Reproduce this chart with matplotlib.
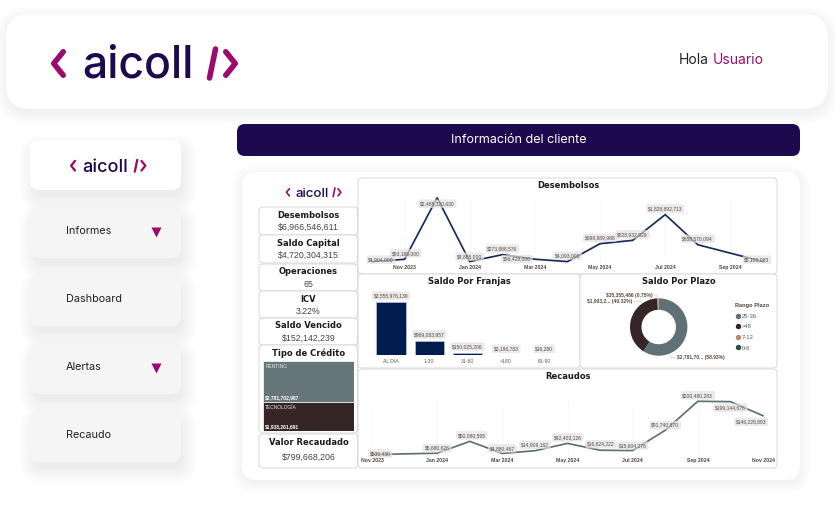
import matplotlib
matplotlib.use("Agg")
import matplotlib.pyplot as plt
from matplotlib.patches import FancyBboxPatch
from matplotlib.lines import Line2D

W, H = 835, 528
PURPLE = "#9b0a6c"
NAVY = "#1d0a4e"

# ---------- data ----------
kpi_titles = ["Desembolsos", "Saldo Capital", "Operaciones", "ICV", "Saldo Vencido"]
kpi_values = ["$6,966,546,611", "$4,720,304,315", "65", "3.22%", "$152,142,239"]
menu_items = ["Informes", "Dashboard", "Alertas", "Recaudo"]

des_months = [0, 1, 2, 3, 4, 5, 6, 7, 8, 9, 10, 12]
des_values = [4904000, 93188000, 2485320630, 4885000, 273888576, 96428000,
              4093000, 698889988, 828932929, 1828892713, 658570094, 5100000]
des_labels = ["$4,904,000", "$93,188,000", "$2,485,320,630", "$4,885,000", "$273,888,576",
              "$96,428,000", "$4,093,000", "$698,889,988", "$828,932,929",
              "$1,828,892,713", "$658,570,094", "$5,100,083"]
des_tick_pos = [1, 3, 5, 7, 9, 11]
des_ticks = ["Nov 2023", "Jan 2024", "Mar 2024", "May 2024", "Jul 2024", "Sep 2024"]

rec_months = [0, 2, 3, 4, 5, 6, 7, 8, 9, 10, 11, 12]
rec_values = [539430, 5680626, 50080595, 4880467, 14909162, 42403126,
              16824222, 15604276, 91740870, 200480283, 199144676, 146228893]
rec_labels = ["$539,430", "$5,680,626", "$50,080,595", "$4,880,467", "$14,909,162",
              "$42,403,126", "$16,824,222", "$15,604,276", "$91,740,870",
              "$200,480,283", "$199,144,676", "$146,228,893"]
rec_tick_pos = [0, 2, 4, 6, 8, 10, 12]
rec_ticks = ["Nov 2023", "Jan 2024", "Mar 2024", "May 2024", "Jul 2024", "Sep 2024", "Nov 2024"]

franja_names = ["AL DIA", "1-30", "31-60", ">180", "61-90"]
franja_values = [3555976139, 969083957, 150025206, 3196783, 16280]
franja_labels = ["$3,555,976,139", "$969,083,957", "$150,025,206", "$3,196,783", "$16,280"]

plazo_names = ["25-36", ">48", "7-12", "0-6"]
plazo_values = [2781700000, 1903200000, 35355486, 48829]
plazo_colors = ["#5f7175", "#352526", "#b98a6b", "#2f4a4f"]

tipo_names = ["RENTING", "TECNOLOGÍA"]
tipo_values = [2781702987, 1938261691]
tipo_labels = ["$2,781,702,987", "$1,938,261,691"]
tipo_colors = ["#66767a", "#352526"]

# label offsets in pixels (right, up)
des_off = [(9, 2), (1, 6), (0, -6), (0, 5), (0, 6), (-18, 0), (0, 6), (0, 6), (0, 6), (0, 6), (0, 6), (-6, 2)]
rec_off = [(8, 1), (0, 5), (2, 6), (0, 5), (0, 6), (0, 6), (1, 6), (0, 5), (0, 5), (0, 6), (0, -6), (-12, -6)]

# ---------- helpers ----------
fig = plt.figure(figsize=(W / 100, H / 100), dpi=100, facecolor="white")
bg = fig.add_axes([0, 0, 1, 1])
bg.set_xlim(0, W)
bg.set_ylim(H, 0)
bg.axis("off")


def rbox(x0, y0, x1, y1, r=8, fc="white", ec="none", lw=0.0, z=2, alpha=None):
    p = FancyBboxPatch((x0, y0), x1 - x0, y1 - y0, boxstyle=f"round,pad=0,rounding_size={r}",
                       fc=fc, ec=ec, lw=lw, zorder=z, alpha=alpha)
    bg.add_patch(p)


def card(x0, y0, x1, y1, r=10, fc="white", spread=14, dy=8, dx=3, z=2, a=0.0045):
    for i in range(spread, -4, -1):
        rbox(x0 - i + dx, y0 - i + dy, x1 + i + dx, y1 + i + dy, max(r + i, 1), fc="#000000", z=z, alpha=a)
    rbox(x0, y0, x1, y1, r, fc=fc, z=z + 0.1)


def pxaxes(x0, y0, x1, y1):
    ax = fig.add_axes([x0 / W, 1 - y1 / H, (x1 - x0) / W, (y1 - y0) / H])
    ax.patch.set_alpha(0)
    for s in ax.spines.values():
        s.set_visible(False)
    return ax


def logo(x0, xc, y, scale, z=5):
    # y is the vertical centre of the brackets; the word sits on a baseline below it
    h = 11.75 * scale
    w = 9.5 * scale
    lw = 4.0 * scale
    kw = dict(color=PURPLE, lw=lw, solid_capstyle="round", solid_joinstyle="round", zorder=z)
    bg.plot([x0 + w, x0, x0 + w], [y - h, y, y + h], **kw)
    bg.text(xc, y + 14.5 * scale, "aicoll", family="Inter", fontweight="medium", fontsize=32 * scale,
            color=NAVY, ha="center", va="baseline", zorder=z)
    sx = xc + 71.5 * scale
    bg.plot([sx, sx + 6 * scale], [y + 14.5 * scale, y - 14.5 * scale], **kw)
    rx = sx + 16.25 * scale
    bg.plot([rx, rx + w, rx], [y - h, y, y + h], **kw)


def line_chart(box, months, values, labels, offs, tpos, ticks, color, ylim_top):
    ax = pxaxes(*box)
    ax.plot(months, values, color=color, lw=1.25, solid_joinstyle="miter", clip_on=False, zorder=3)
    ax.set_xlim(0, 12)
    ax.set_ylim(0, ylim_top)
    ax.set_yticks([])
    ax.set_xticks(tpos)
    ax.set_xticklabels(ticks, fontsize=3.7, color="#4f443f", family="Liberation Sans", fontweight="bold")
    ax.tick_params(axis="x", length=0, pad=2.5)
    ax.grid(axis="x", color="#f7f7f7", lw=0.4)
    ax.set_axisbelow(True)
    for m, v, t, (dx, dy) in zip(months, values, labels, offs):
        ax.annotate(t, (m, v), xytext=(dx * 0.72, dy * 0.72), textcoords="offset points",
                    ha="center", va="center", fontsize=3.6, color="#5b4a40",
                    family="Liberation Sans", annotation_clip=False, zorder=4,
                    bbox=dict(boxstyle="round,pad=0.35", fc="#e2e2e2", ec="none", alpha=0.7))
    return ax


TITLE = dict(family="DejaVu Sans", fontweight="bold", color="#1b1b1b", ha="center", va="center", zorder=6)
TSIZE = 6.0
VAL = dict(family="Liberation Sans", fontsize=6.3, color="#444444", ha="center", va="center", zorder=6)
BORDER = dict(r=4, ec="#d8d8d8", lw=0.7, z=3)

# ---------- page ----------
card(6, 14, 828, 109, r=24, spread=12, dy=4, dx=0)
logo(53.75, 138, 63.5, 1.0)
bg.text(679, 60, "Hola", family="Inter", fontsize=10.0, color="#222222", va="center", zorder=6)
bg.text(713, 60, "Usuario", family="Inter", fontsize=10.0, color=PURPLE, va="center", zorder=6)

card(30, 140, 181, 190)
logo(71.1, 105.5, 165.7, 0.41)

menu_tops = [208, 276, 344, 412]
for name, top in zip(menu_items, menu_tops):
    card(30, top, 181, top + 50, fc="#f5f5f5")
    bg.text(66, top + 23, name, family="Inter", fontsize=7.8, color="#222222", va="center", zorder=6)
    if name in ("Informes", "Alertas"):
        bg.plot([156], [top + 23.5], marker="v", ms=6.5, color=PURPLE, mec="none", zorder=6)

rbox(237, 124, 800, 156, r=8, fc=NAVY, z=3)
bg.text(519, 140, "Información del cliente", family="Inter", fontsize=9.0, color="white",
        ha="center", va="center", zorder=6)

card(242, 172, 800, 480, r=14, spread=11, dy=3, dx=0)
logo(286.5, 311.7, 192.3, 0.30)

# ---------- KPI cards ----------
kpi_boxes = [(207, 235), (235, 263), (264, 291), (291, 318), (318, 345)]
for title, val, (t, b) in zip(kpi_titles, kpi_values, kpi_boxes):
    rbox(259, t, 357.5, b, **BORDER)
    bg.text(308.5, t + 8, title, fontsize=TSIZE, **TITLE)
    bg.text(308.5, t + 20.5, val, **VAL)

rbox(259, 345, 357.5, 433, **BORDER)
bg.text(308.5, 353, "Tipo de Crédito", fontsize=TSIZE, **TITLE)
rbox(259, 434, 357.5, 468, **BORDER)
bg.text(308.5, 442.5, "Valor Recaudado", fontsize=TSIZE, **TITLE)
bg.text(308.5, 457.5, "$799,668,206", **VAL)

# treemap stacked from values
ax_t = pxaxes(263.3, 361, 353.7, 431)
bottom = 0
for name, v, lab, c in zip(tipo_names, tipo_values, tipo_labels, tipo_colors):
    ax_t.bar(0, v, bottom=bottom, width=1, color=c, edgecolor="white", linewidth=0.5)
    ax_t.annotate(name, (-0.5, bottom), xytext=(1.5, -4), textcoords="offset points", fontsize=3.5,
                  color="#e4e4e4", family="Liberation Sans", va="center", annotation_clip=False)
    ax_t.annotate(lab, (-0.5, bottom + v), xytext=(1.5, 3), textcoords="offset points", fontsize=3.6,
                  color="white", fontweight="bold", family="Liberation Sans", va="center",
                  annotation_clip=False)
    bottom += v
ax_t.set_xlim(-0.5, 0.5)
ax_t.set_ylim(sum(tipo_values), 0)
ax_t.set_xticks([])
ax_t.set_yticks([])

# ---------- chart panels ----------
rbox(358, 178, 777, 274, **BORDER)
rbox(358, 274, 580, 368, **BORDER)
rbox(580, 274, 777, 368, **BORDER)
rbox(358, 369, 777, 468, **BORDER)
bg.text(568, 185.5, "Desembolsos", fontsize=TSIZE, **TITLE)
bg.text(469, 282, "Saldo Por Franjas", fontsize=TSIZE, **TITLE)
bg.text(678.5, 282, "Saldo Por Plazo", fontsize=TSIZE, **TITLE)
bg.text(568, 376.5, "Recaudos", fontsize=TSIZE, **TITLE)

line_chart((372, 197.7, 763, 261.7), des_months, des_values, des_labels, des_off,
           des_tick_pos, des_ticks, "#1a2b5c", max(des_values))
line_chart((372, 401.3, 763, 454.7), rec_months, rec_values, rec_labels, rec_off,
           rec_tick_pos, rec_ticks, "#5f7175", max(rec_values))

# bars
ax_b = pxaxes(376.3, 302, 559, 355.3)
xs = list(range(len(franja_values)))
ax_b.bar(xs, franja_values, width=0.765, color="#001b4d", edgecolor="#c9d2e0", linewidth=0.4)
ax_b.set_xlim(-0.5 + 0.1175, 4.5 - 0.1175)
ax_b.set_ylim(0, max(franja_values))
ax_b.set_yticks([])
ax_b.set_xticks(xs)
ax_b.set_xticklabels(franja_names, fontsize=3.7, color="#5b5b5b", family="Liberation Sans")
ax_b.tick_params(axis="x", length=0, pad=2.5)
for x, v, t in zip(xs, franja_values, franja_labels):
    ax_b.annotate(t, (x, v), xytext=(0, 4.6), textcoords="offset points", ha="center", va="center",
                  fontsize=3.6, color="#5b4a40", family="Liberation Sans", annotation_clip=False,
                  bbox=dict(boxstyle="round,pad=0.35", fc="#e2e2e2", ec="none", alpha=0.7))

# donut
ax_p = pxaxes(630, 298.3, 687.4, 355.7)
ax_p.pie(plazo_values, colors=plazo_colors, startangle=90, counterclock=False, radius=1.0,
         wedgeprops=dict(width=0.4, edgecolor="none"))
ax_p.set_xlim(-1, 1)
ax_p.set_ylim(-1, 1)

lab_kw = dict(family="Liberation Sans", fontsize=3.6, fontweight="bold", color="#5b4a40", va="center", zorder=6)
bg.text(606, 295, "$35,355,486 (0.75%)", **lab_kw)
bg.text(587, 301.5, "$1,903,2... (40.32%)", **lab_kw)
bg.text(677, 357.5, "$2,781,70... (58.93%)", **lab_kw)
lead = dict(color="#c4c4c4", lw=0.4, zorder=6)
bg.plot([652, 657, 658], [295, 295, 298], **lead)
bg.plot([633, 640, 642], [301.5, 301.5, 303], **lead)
bg.plot([676, 671, 670], [357.5, 357.5, 355], **lead)

handles = [Line2D([], [], ls="none", marker="o", ms=2.9, color=c, label=n)
           for n, c in zip(plazo_names, plazo_colors)]
leg = fig.legend(handles=handles, title="Rango Plazo", loc="upper left",
                 bbox_to_anchor=(735 / W, 1 - 303 / H), frameon=False, fontsize=4.2,
                 labelspacing=0.95, handletextpad=0.1, handlelength=1.0, borderpad=0, borderaxespad=0,
                 labelcolor="#5b5b5b", alignment="left")
leg.get_title().set_fontsize(4.1)
leg.get_title().set_fontweight("bold")
leg.get_title().set_color("#4f443f")
leg.get_title().set_family("Liberation Sans")
for t in leg.get_texts():
    t.set_family("Liberation Sans")

fig.savefig("out.png", dpi=100)
